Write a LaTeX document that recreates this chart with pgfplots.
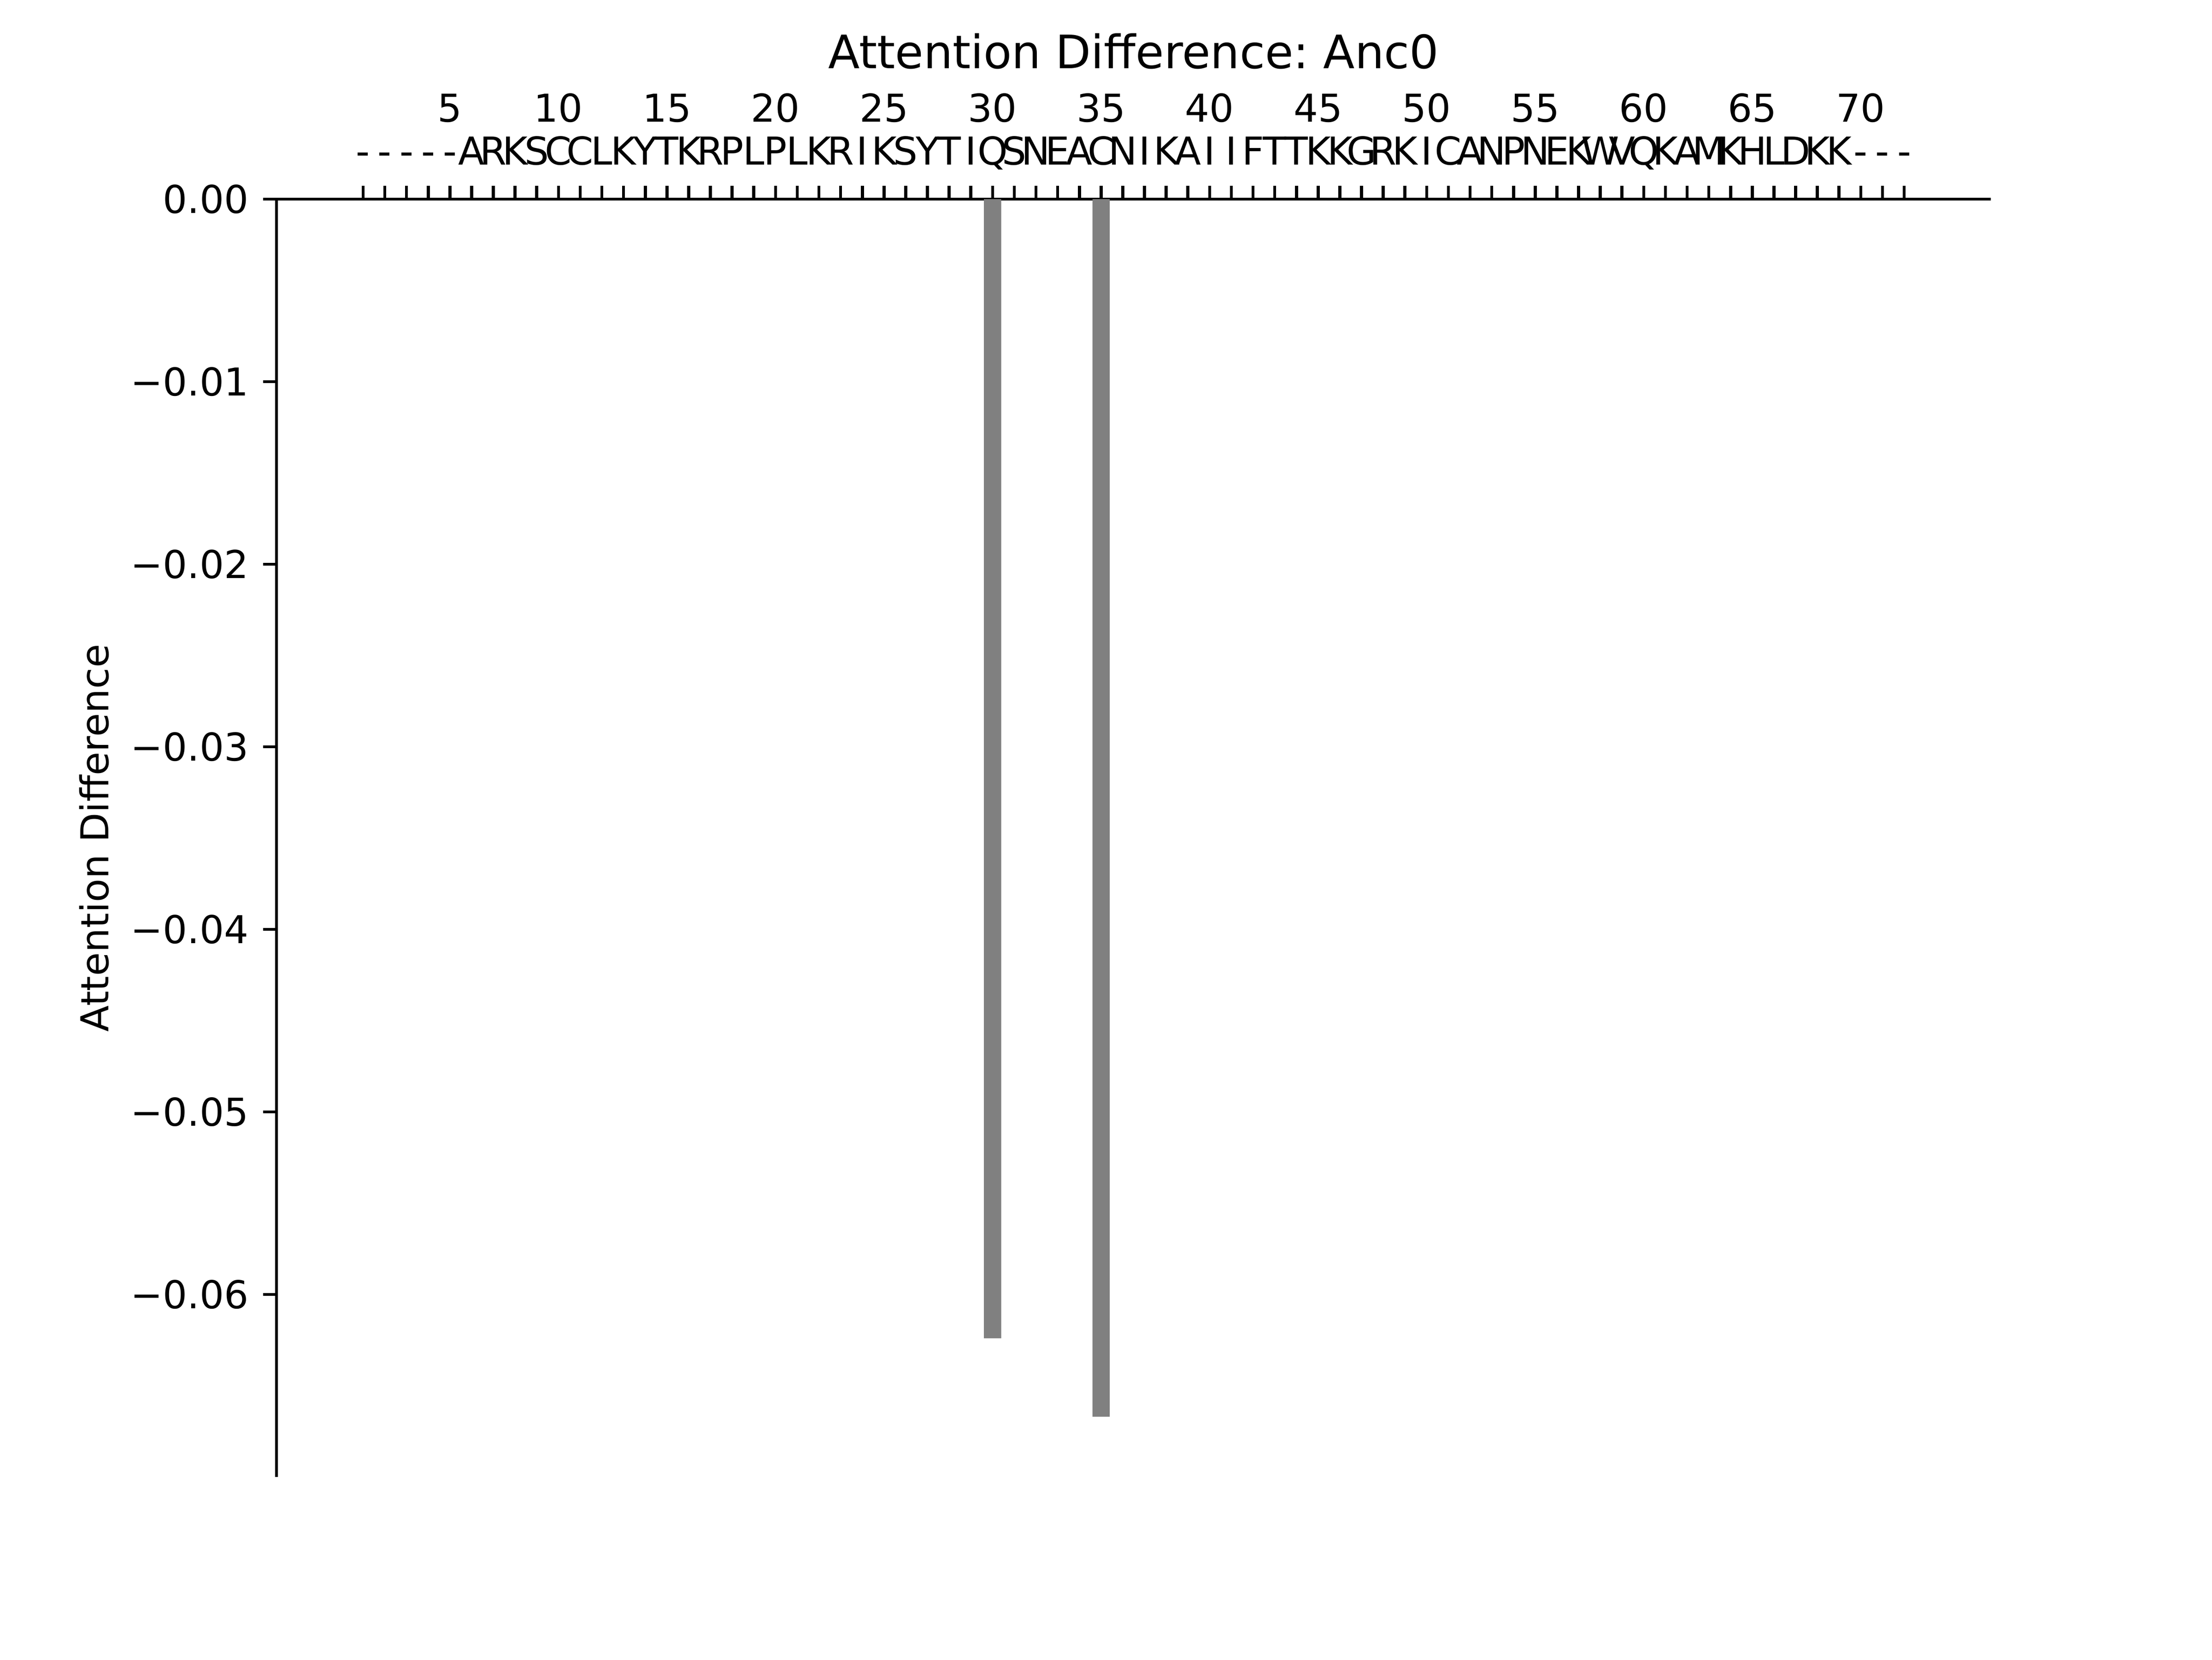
\documentclass[border=0pt]{standalone}
\usepackage{fontspec}
\setmainfont{DejaVu Sans}
\usepackage{pgfplots}
\pgfplotsset{compat=1.18}
\frenchspacing

\definecolor{bargray}{HTML}{808080}

\begin{document}
\begin{tikzpicture}
% figure is 8in x 6in, axes at matplotlib's default subplot position
\path[use as bounding box] (0,0) rectangle (576pt,432pt);
\begin{axis}[
    at={(72pt,47.52pt)}, anchor=south west,
    scale only axis, width=446.4pt, height=332.64pt,
    xmin=-2.99, xmax=75.99,
    ymin=-0.07, ymax=0,
    axis x line*=top,
    axis y line*=left,
    axis line style={line width=0.8pt, black},
    tick align=outside,
    major tick length=3.5pt,
    every tick/.style={line width=0.8pt, black},
    scaled y ticks=false,
    xtick={1,...,72},
    xticklabels={-,-,-,-,-,A,R,K,S,C,C,L,K,Y,T,K,R,P,L,P,L,K,R,I,K,S,Y,T,I,Q,S,N,E,A,C,N,I,K,A,I,I,F,T,T,K,K,G,R,K,I,C,A,N,P,N,E,K,W,V,Q,K,A,M,K,H,L,D,K,K,-,-,-},
    xticklabel style={font=\fontsize{10}{12}\selectfont, anchor=base, inner sep=0pt, yshift=5.4pt},
    extra x ticks={5,10,...,70},
    extra x tick labels={5,10,15,20,25,30,35,40,45,50,55,60,65,70},
    extra x tick style={major tick length=0pt,
        xticklabel style={yshift=14.7pt}},
    ytick={-0.06,-0.05,-0.04,-0.03,-0.02,-0.01,0},
    yticklabels={−0.06,−0.05,−0.04,−0.03,−0.02,−0.01,0.00},
    yticklabel style={font=\fontsize{10}{12}\selectfont, anchor=east, inner sep=0pt, xshift=-3.6pt},
    ylabel={Attention Difference},
    ylabel style={font=\fontsize{10}{12}\selectfont, at={(axis description cs:-0.0981,0.5)}, anchor=base},
    title={Attention Difference: Anc0},
    every axis title shift=0pt,
    title style={font=\fontsize{12}{14.4}\selectfont, at={(axis description cs:0.5,1)}, anchor=base, yshift=34pt},
    clip=false,
]
\addplot[ybar, bar width=0.8, fill=bargray, draw=none] coordinates {
    (1,0) (2,0) (3,0) (4,0) (5,0) (6,0) (7,0) (8,0) (9,0) (10,0)
    (11,0) (12,0) (13,0) (14,0) (15,0) (16,0) (17,0) (18,0) (19,0) (20,0)
    (21,0) (22,0) (23,0) (24,0) (25,0) (26,0) (27,0) (28,0) (29,0) (30,-0.0624)
    (31,0) (32,0) (33,0) (34,0) (35,-0.0667) (36,0) (37,0) (38,0) (39,0) (40,0)
    (41,0) (42,0) (43,0) (44,0) (45,0) (46,0) (47,0) (48,0) (49,0) (50,0)
    (51,0) (52,0) (53,0) (54,0) (55,0) (56,0) (57,0) (58,0) (59,0) (60,0)
    (61,0) (62,0) (63,0) (64,0) (65,0) (66,0) (67,0) (68,0) (69,0) (70,0)
    (71,0) (72,0)
};
\end{axis}
\end{tikzpicture}
\end{document}
